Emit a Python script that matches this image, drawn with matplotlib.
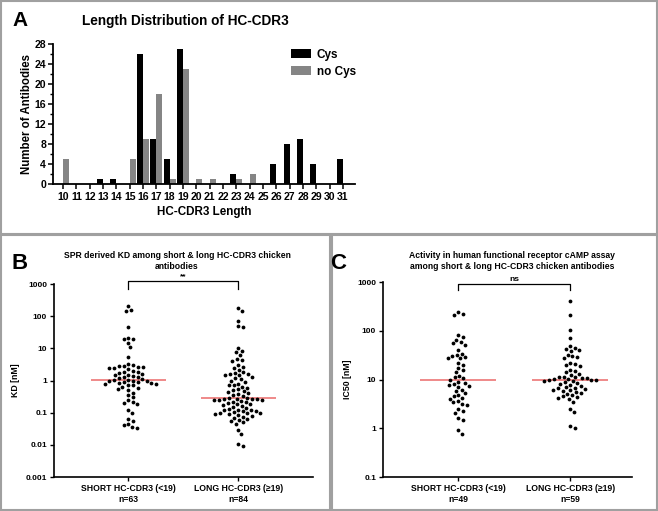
import numpy as np
import matplotlib
matplotlib.use("Agg")
import matplotlib.pyplot as plt
from matplotlib.patches import Rectangle
from matplotlib.ticker import FixedLocator, MultipleLocator

plt.rcParams['font.family'] = ['Liberation Sans', 'DejaVu Sans']
plt.rcParams['font.weight'] = 'bold'

# =============================================================================
# DONNEES
# =============================================================================
# Panel A : distribution des longueurs HC-CDR3
longueurs = list(range(10, 32))
cys = [0, 0, 0, 1, 1, 0, 26, 9, 5, 27, 0, 0, 0, 2, 0, 0, 4, 8, 9, 4, 0, 5]
no_cys = [5, 0, 0, 0, 0, 5, 9, 18, 1, 23, 1, 1, 0, 1, 2, 0, 0, 0, 0, 0, 0, 0]

# Panel B : KD [nM]
kd_court = [211, 150, 158, 45, 21, 19, 20, 15, 11, 5.4,
            3.2, 2.9, 2.7, 2.5, 2.8, 3.0, 2.6, 2.4, 2.2, 2.0,
            1.8, 1.7, 1.6, 1.5, 1.45, 1.4, 1.3, 1.25, 1.2, 1.9,
            1.1, 1.05, 1.0, 0.98, 0.95, 0.9, 0.88, 0.85, 0.82, 0.8, 0.8, 1.02,
            0.75, 0.7, 0.65, 0.6, 0.55, 0.5,
            0.42, 0.35, 0.3, 0.25, 0.21, 0.2, 0.19, 0.12, 0.1, 0.065, 0.055,
            0.045, 0.04, 0.035, 0.033]
kd_long = [185, 150, 70, 50, 45,
           10, 8, 7.5, 6, 4.6, 4.2, 4.0,
           3.0, 2.7, 2.4, 2.1, 1.8, 1.7, 1.6, 1.55, 1.5, 1.45,
           1.3, 1.2, 1.1, 1.0, 0.9, 0.8, 0.75, 0.7, 0.65, 0.6,
           0.55, 0.5, 0.47, 0.44, 0.41, 0.38, 0.35, 0.32,
           0.29, 0.28, 0.275, 0.27, 0.265, 0.26, 0.25, 0.25, 0.24, 0.23, 0.22,
           0.21, 0.2, 0.19, 0.18, 0.17, 0.16, 0.15,
           0.14, 0.13, 0.125, 0.12, 0.12, 0.115, 0.11, 0.105, 0.1, 0.1, 0.095,
           0.09, 0.09, 0.085, 0.08,
           0.075, 0.07, 0.065, 0.06, 0.055, 0.05, 0.045, 0.028, 0.021, 0.0105, 0.0095]

# Panel C : IC50 [nM]
ic50_court = [240, 225, 210,
              80, 75, 65, 58, 55, 52,
              40, 34, 32, 30, 29, 28, 27,
              22, 20, 17, 16, 14,
              12, 11, 10.5, 10, 9, 8.5, 8, 7.8, 7.5, 7,
              6.2, 5.8, 5.2, 4.8, 4.5, 4.2, 4.0, 3.6, 3.4, 3.2, 3.0,
              2.5, 2.3, 2.1, 1.6, 1.5, 0.9, 0.78]
ic50_long = [400, 210, 105, 72,
             48, 45, 42, 40, 38,
             32, 30, 29, 27, 22, 21, 20, 19,
             16, 15, 14, 13, 12.5,
             11.5, 11.2, 11, 10.8, 10.5, 10.3, 10.1, 10.0, 9.8, 9.6, 9.4, 9.2,
             8.8, 8.4, 8, 7.6, 7.2, 7, 6.8, 6.6, 6.4, 6.2, 6.0,
             5.8, 5.5, 5.2, 5.0, 4.8, 4.6, 4.4, 4.2, 4.0,
             3.5, 2.5, 2.2, 1.1, 1.0]

groupes = ["SHORT HC-CDR3 (<19)", "LONG HC-CDR3 (\u226519)"]

W, H = 658, 511
fig = plt.figure(figsize=(W / 100, H / 100), dpi=100)


def boite(x0, y0, x1, y1):
    # rectangle en pixels (origine en haut a gauche)
    return [x0 / W, 1 - y1 / H, (x1 - x0) / W, (y1 - y0) / H]


GRIS = '#a0a0a0'
for (x0, y0, x1, y1) in [(1, 1, 657, 234), (1, 235, 330, 510), (332, 235, 657, 510)]:
    fig.add_artist(Rectangle((x0 / W, 1 - y1 / H), (x1 - x0) / W, (y1 - y0) / H,
                             transform=fig.transFigure, fill=False,
                             edgecolor=GRIS, lw=1.5))

# =============================================================================
# PANEL A
# =============================================================================
axA = fig.add_axes(boite(53, 44, 355, 184))
x = np.array(longueurs)
larg = 0.46
axA.bar(x - larg / 2, cys, width=larg, color='black', label='Cys')
axA.bar(x + larg / 2, no_cys, width=larg, color='#858585', label='no Cys')
axA.set_xlim(9.25, 31.9)
axA.set_ylim(0, 28)
axA.set_xticks(x)
axA.set_xticklabels([str(v) for v in longueurs], fontsize=7.6, fontweight='bold')
axA.yaxis.set_major_locator(MultipleLocator(4))
axA.yaxis.set_minor_locator(MultipleLocator(2))
axA.tick_params(axis='y', labelsize=7.6, length=3.5, width=1.1, pad=1.5)
axA.tick_params(axis='y', which='minor', length=2, width=1)
axA.tick_params(axis='x', length=3.5, width=1.1, pad=2)
for s in ['top', 'right']:
    axA.spines[s].set_visible(False)
for s in ['left', 'bottom']:
    axA.spines[s].set_linewidth(1.3)
for lab in axA.get_yticklabels():
    lab.set_fontweight('bold')
axA.legend(loc='upper left', bbox_to_anchor=(280 / W, 1 - 38 / H),
           bbox_transform=fig.transFigure, frameon=False,
           prop={'size': 8.5, 'weight': 'bold'}, handlelength=1.7,
           handleheight=0.75, handletextpad=0.5, labelspacing=0.45)
fig.text(185 / W, 1 - 21 / H, "Length Distribution of HC-CDR3", ha='center',
         va='center', fontsize=9.8, fontweight='bold')
fig.text(20 / W, 1 - 20 / H, "A", ha='center', va='center', fontsize=15,
         fontweight='bold')
fig.text(27 / W, 1 - 114 / H, "Number of Antibodies", rotation=90, ha='center',
         va='center', fontsize=8.3, fontweight='bold')
fig.text(204 / W, 1 - 212 / H, "HC-CDR3 Length", ha='center', va='center',
         fontsize=8.4, fontweight='bold')


# =============================================================================
# PANELS B et C : nuages de points (beeswarm)
# =============================================================================
def essaim(ax, x0, valeurs, dist_px=4.7, pas=0.5):
    pts = ax.transData.transform(np.column_stack([np.full(len(valeurs), x0),
                                                  valeurs]))
    ypix = pts[:, 1]
    ordre = np.argsort(-ypix)
    places = []
    xoff = np.zeros(len(valeurs))
    for i in ordre:
        k = 0
        while True:
            c = ((k + 1) // 2) * pas * (1 if k % 2 else -1)
            ok = all((c - xj) ** 2 + (ypix[i] - yj) ** 2 >= dist_px ** 2
                     for xj, yj in places)
            if ok:
                break
            k += 1
        xoff[i] = c
        places.append((c, ypix[i]))
    x_par_px = (ax.get_xlim()[1] - ax.get_xlim()[0]) / ax.bbox.width
    return x0 + xoff * x_par_px


def panneau(rect, xlim, ylim, decades, series, ns, ylabel):
    ax = fig.add_axes(boite(*rect))
    ax.set_yscale('log')
    ax.set_xlim(*xlim)
    ax.set_ylim(*ylim)
    ax.yaxis.set_major_locator(FixedLocator(decades))
    ax.yaxis.set_minor_locator(FixedLocator([]))
    ax.set_yticklabels([('%g' % d) for d in decades], fontsize=6, fontweight='bold')
    ax.set_xticks([0, 1])
    ax.set_xticklabels(["%s\nn=%d" % (g, n) for g, n in zip(groupes, ns)],
                       fontsize=6.2, fontweight='bold', linespacing=1.35)
    ax.tick_params(axis='both', length=3, width=1, pad=2)
    for s in ['top', 'right']:
        ax.spines[s].set_visible(False)
    for s in ['left', 'bottom']:
        ax.spines[s].set_linewidth(1.2)
    ax.set_ylabel(ylabel, fontsize=6.3, fontweight='bold', labelpad=4)
    for k, vals in enumerate(series):
        xs = essaim(ax, k, vals)
        ax.scatter(xs, vals, s=7.5, color='black', linewidths=0, zorder=3)
        med = np.median(vals)
        ax.hlines(med, k - 0.34, k + 0.34, color='#ee8080', lw=1.3, zorder=2)
    return ax


axB = panneau((54, 284, 313, 477), (-0.673, 1.68), (0.001, 1000),
              [0.001, 0.01, 0.1, 1, 10, 100, 1000],
              [kd_court, kd_long], [len(kd_court), len(kd_long)], "KD [nM]")
axB.plot([0, 0, 1, 1], [0.974, 1.016, 1.016, 0.974], color='black', lw=0.9,
         transform=axB.get_xaxis_transform(), clip_on=False)
axB.text(0.5, 1.022, "**", ha='center', va='bottom', fontsize=6,
         fontweight='bold', transform=axB.get_xaxis_transform())
fig.text(177 / W, 1 - 261 / H,
         "SPR derived KD among short & long HC-CDR3 chicken\nantibodies",
         ha='center', va='center', fontsize=6.2, fontweight='bold',
         linespacing=1.25)
fig.text(20 / W, 1 - 263 / H, "B", ha='center', va='center', fontsize=16,
         fontweight='bold')

axC = panneau((383, 282, 632, 477), (-0.67, 1.55), (0.1, 1000),
              [0.1, 1, 10, 100, 1000],
              [ic50_court, ic50_long], [len(ic50_court), len(ic50_long)],
              "IC50 [nM]")
axC.plot([0, 0, 1, 1], [0.96, 0.99, 0.99, 0.96], color='black', lw=0.9,
         transform=axC.get_xaxis_transform(), clip_on=False)
axC.text(0.5, 0.997, "ns", ha='center', va='bottom', fontsize=6,
         fontweight='bold', transform=axC.get_xaxis_transform())
fig.text(512 / W, 1 - 261 / H,
         "Activity in human functional receptor cAMP assay\n"
         "among short & long HC-CDR3 chicken antibodies",
         ha='center', va='center', fontsize=6.2, fontweight='bold',
         linespacing=1.25)
fig.text(338 / W, 1 - 263 / H, "C", ha='center', va='center', fontsize=16,
         fontweight='bold')

fig.savefig("out.png", dpi=100)
